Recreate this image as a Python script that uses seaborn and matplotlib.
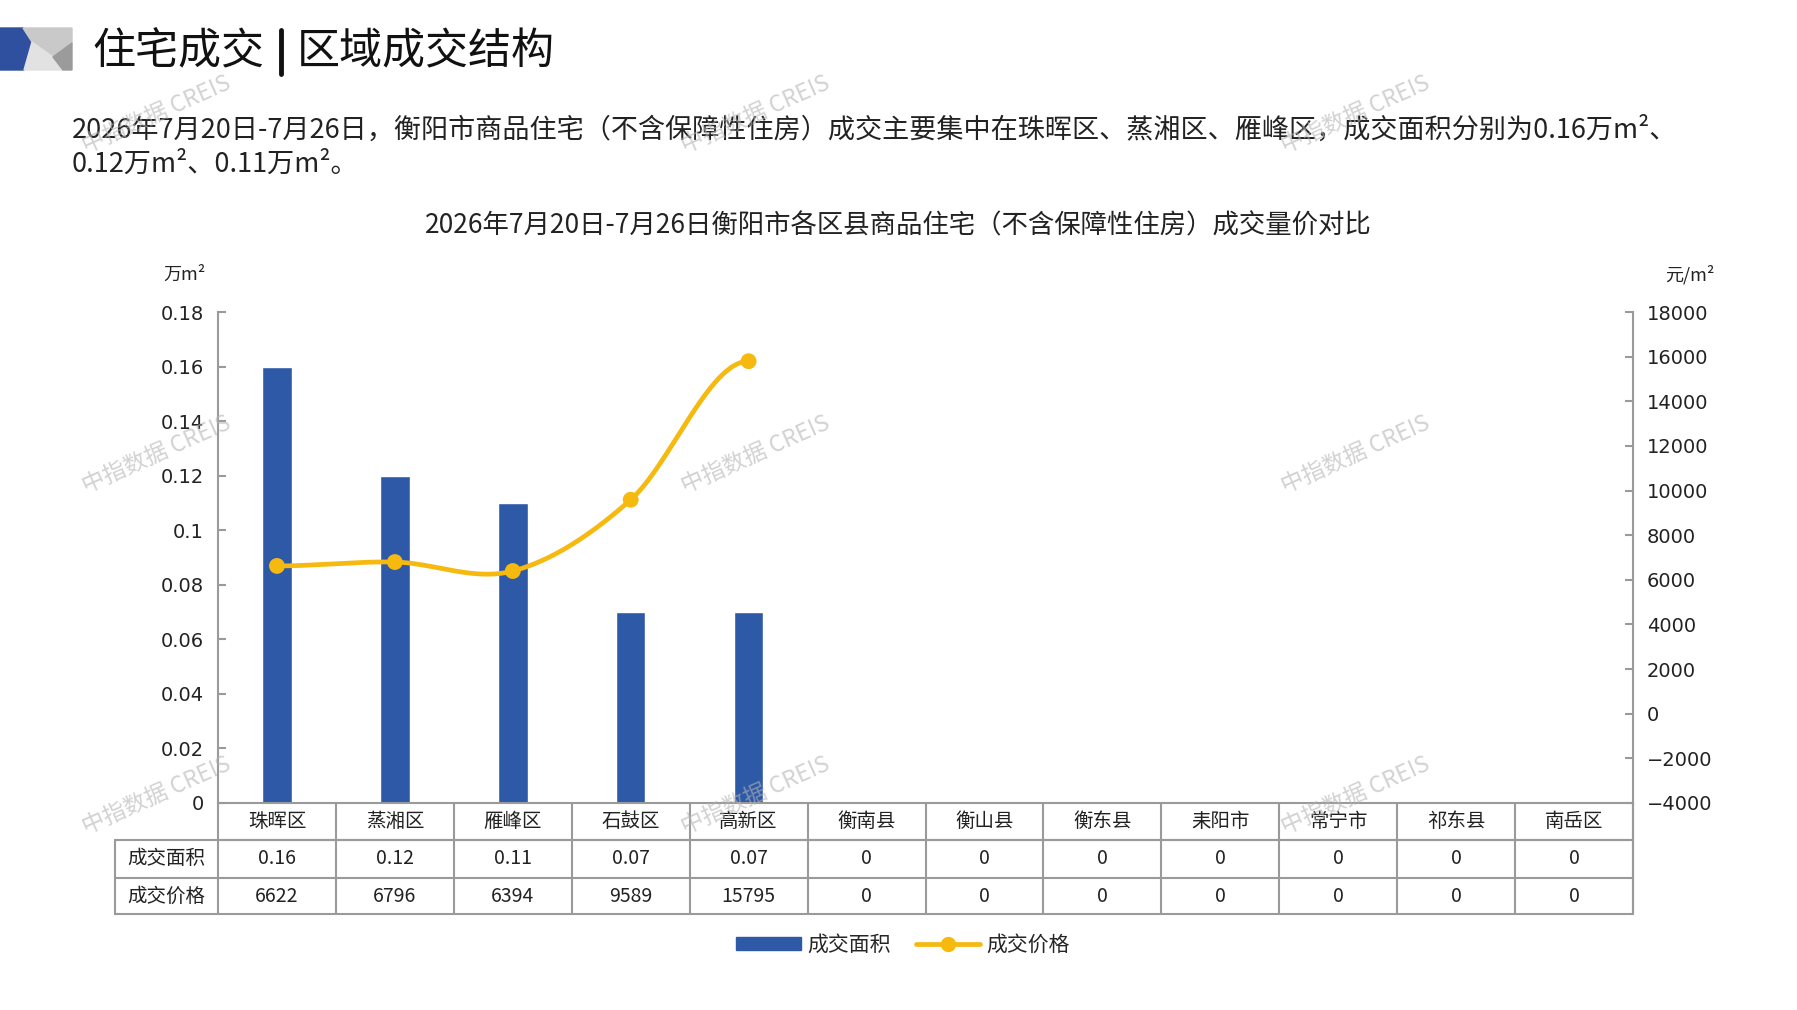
import numpy as np
import seaborn as sns
import matplotlib.pyplot as plt
from matplotlib.patches import Polygon, Patch
from matplotlib.lines import Line2D
from matplotlib.ticker import FuncFormatter

# data
districts = ['珠晖区', '蒸湘区', '雁峰区', '石鼓区', '高新区', '衡南县',
             '衡山县', '衡东县', '耒阳市', '常宁市', '祁东县', '南岳区']
area = [0.16, 0.12, 0.11, 0.07, 0.07, 0, 0, 0, 0, 0, 0, 0]
price = [6622, 6796, 6394, 9589, 15795, 0, 0, 0, 0, 0, 0, 0]
area_ticks = [0, 0.02, 0.04, 0.06, 0.08, 0.1, 0.12, 0.14, 0.16, 0.18]
price_ticks = list(range(-4000, 18001, 2000))

BLUE = '#2E59A7'
YELLOW = '#F5B90F'
GRID = '#9a9a9a'
TXT = '#222222'

sns.set_theme(style='white')
plt.rcParams['font.family'] = ['Noto Sans CJK SC', 'DejaVu Sans']
plt.rcParams['axes.unicode_minus'] = True

W, H = 1797, 1010
fig = plt.figure(figsize=(W / 100, H / 100), dpi=100)


def px(x, y):
    return (x / W, 1 - y / H)


# logo
for pts, col in [
    ([(0, 28), (23, 28), (32, 42), (24, 70), (0, 70)], '#2F4F9F'),
    ([(23, 28), (72, 28), (72, 43), (53, 57), (32, 42)], '#c9c9c9'),
    ([(32, 42), (53, 57), (63, 70), (24, 70)], '#e2e2e2'),
    ([(72, 43), (72, 70), (63, 70), (53, 57)], '#9b9b9b'),
]:
    fig.patches.append(Polygon([px(*p) for p in pts], closed=True, color=col,
                               transform=fig.transFigure, figure=fig))

fig.text(*px(92, 52), '住宅成交', fontsize=31, va='center', ha='left', color='#111111')
fig.add_artist(Line2D([px(281, 0)[0]] * 2, [px(0, 30)[1], px(0, 74)[1]],
                      transform=fig.transFigure, color='#111111', lw=3.5))
fig.text(*px(297, 52), '区域成交结构', fontsize=31, va='center', ha='left', color='#111111')

fig.text(*px(72, 130), '2026年7月20日-7月26日，衡阳市商品住宅（不含保障性住房）成交主要集中在珠晖区、'
         '蒸湘区、雁峰区，成交面积分别为0.16万m²、', fontsize=19.5, va='center', ha='left', color=TXT)
fig.text(*px(72, 164), '0.12万m²、0.11万m²。', fontsize=19.5, va='center', ha='left', color=TXT)

fig.text(*px(898, 226), '2026年7月20日-7月26日衡阳市各区县商品住宅（不含保障性住房）成交量价对比',
         fontsize=19, va='center', ha='center', color=TXT)

# axes
x0, x1, ytop, ybot = 218, 1633, 312, 803
ax = fig.add_axes([x0 / W, 1 - ybot / H, (x1 - x0) / W, (ybot - ytop) / H])
sns.barplot(x=districts, y=area, color=BLUE, width=0.25, saturation=1, ax=ax)
ax.set_xlim(-0.5, len(districts) - 0.5)
ax.set_ylim(0, 0.18)
ax.set_yticks(area_ticks)
ax.yaxis.set_major_formatter(FuncFormatter(lambda v, p: f'{v:g}'))
ax.tick_params(axis='y', direction='in', length=6, width=1.5, color=GRID, labelsize=14, pad=10,
               labelcolor=TXT)
ax.tick_params(axis='x', length=0, labelbottom=False)
for lab in ax.get_yticklabels():
    lab.set_fontfamily('DejaVu Sans')
ax.set_xlabel('')
ax.set_ylabel('')
for s in ['top', 'right']:
    ax.spines[s].set_visible(False)
for s in ['left', 'bottom']:
    ax.spines[s].set_color(GRID)
    ax.spines[s].set_linewidth(1.5)

ax2 = ax.twinx()
# smooth curve through the price points (Bezier, Excel-like smoothing)
xs = np.array([i for i, v in enumerate(price) if v > 0], dtype=float)
ys = np.array([v for v in price if v > 0], dtype=float)
P = np.column_stack([xs, ys])
ext = np.vstack([[2 * P[0, 0] - P[1, 0], P[1, 1]], P, [2 * P[-1, 0] - P[-2, 0], P[-2, 1]]])
curve = []
t = np.linspace(0, 1, 60)[:, None]
for i in range(len(P) - 1):
    p0, p3 = ext[i + 1], ext[i + 2]
    c1 = p0 + (ext[i + 2] - ext[i]) / 6
    c2 = p3 - (ext[i + 3] - ext[i + 1]) / 6
    seg = (1 - t) ** 3 * p0 + 3 * (1 - t) ** 2 * t * c1 + 3 * (1 - t) * t ** 2 * c2 + t ** 3 * p3
    curve.append(seg)
curve = np.vstack(curve)
sns.lineplot(x=curve[:, 0], y=curve[:, 1], sort=False, color=YELLOW, lw=3.4, ax=ax2)
sns.scatterplot(x=xs, y=ys, color=YELLOW, s=130, edgecolor='none', ax=ax2, zorder=5)
ax2.set_ylim(-4000, 18000)
ax2.set_yticks(price_ticks)
ax2.yaxis.set_major_formatter(FuncFormatter(lambda v, p: f'{v:g}'.replace('-', '\u2212')))
ax2.tick_params(axis='y', direction='in', length=6, width=1.5, color=GRID, labelsize=14, pad=10,
                labelcolor=TXT)
for lab in ax2.get_yticklabels():
    lab.set_fontfamily('DejaVu Sans')
for s in ['top', 'left', 'bottom']:
    ax2.spines[s].set_visible(False)
ax2.spines['right'].set_color(GRID)
ax2.spines['right'].set_linewidth(1.5)
ax2.grid(False)
ax.grid(False)

fig.text(*px(185, 275), '万m²', fontsize=13, ha='center', va='center', color=TXT)
fig.text(*px(1690, 275), '元/m²', fontsize=13, ha='center', va='center', color=TXT)

# data table under the axis
trans = ax.get_xaxis_transform()
rh = 491.0
r1, r2, r3 = -(840 - 803) / rh, -(878 - 803) / rh, -(914 - 803) / rh
n = len(districts)
lab_left = -0.5 - (218 - 115) / ((x1 - x0) / n)
kw = dict(transform=trans, clip_on=False, color=GRID, lw=1.5)
ax.plot([-0.5, n - 0.5], [r1, r1], **kw)
ax.plot([lab_left, n - 0.5], [r1, r1], **kw)
ax.plot([lab_left, n - 0.5], [r2, r2], **kw)
ax.plot([lab_left, n - 0.5], [r3, r3], **kw)
ax.plot([lab_left, lab_left], [r1, r3], **kw)
for k in range(n + 1):
    ax.plot([k - 0.5, k - 0.5], [0, r3], **kw)
ax2.plot([n - 0.5, n - 0.5], [0, r3], transform=ax2.get_xaxis_transform(), clip_on=False,
         color=GRID, lw=1.5)

for i, d in enumerate(districts):
    ax.text(i, r1 / 2, d, transform=trans, ha='center', va='center', fontsize=14, color=TXT)
    ax.text(i, (r1 + r2) / 2, f'{area[i]:g}', transform=trans, ha='center', va='center',
            fontsize=14, color=TXT)
    ax.text(i, (r2 + r3) / 2, str(price[i]), transform=trans, ha='center', va='center',
            fontsize=14, color=TXT)
lab_mid = (lab_left - 0.5) / 2
ax.text(lab_mid, (r1 + r2) / 2, '成交面积', transform=trans, ha='center', va='center', fontsize=14,
        color=TXT)
ax.text(lab_mid, (r2 + r3) / 2, '成交价格', transform=trans, ha='center', va='center', fontsize=14,
        color=TXT)

# legend
handles = [Patch(color=BLUE, label='成交面积'),
           Line2D([], [], color=YELLOW, lw=3.4, marker='o', markersize=10, label='成交价格')]
fig.legend(handles=handles, loc='center', bbox_to_anchor=px(903, 945), ncol=2, frameon=False,
           fontsize=15, handlelength=3.1, handleheight=0.6, handletextpad=0.3, columnspacing=1.2)

# watermark
for wx in [157, 756, 1356]:
    for wy in [115, 455, 796]:
        fig.text(*px(wx, wy), '中指数据 CREIS', fontsize=16.5, rotation=24, ha='center', va='center',
                 color='#b4b4b4', alpha=0.6, zorder=10)

fig.savefig('out.png', dpi=100)
